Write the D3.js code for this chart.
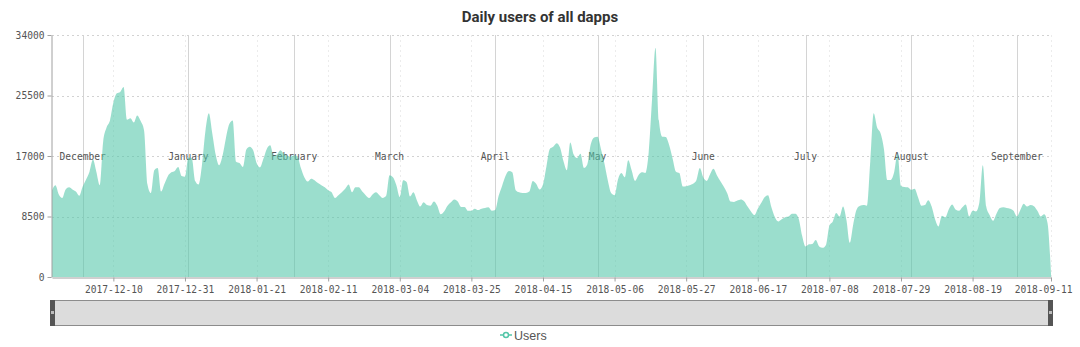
<!DOCTYPE html>
<html>
<head>
<meta charset="utf-8">
<script src="https://cdn.jsdelivr.net/npm/d3@7/dist/d3.min.js"></script>
<style>
	body { margin: 0; background: #fff; }
	.mono { font-family: "DejaVu Sans Mono", "Liberation Mono", monospace; }
</style>
</head>
<body>
<svg id="chart" width="1080" height="347"></svg>
<script>
// first day of the series, one value per day after it
var firstDay = "2017-11-22";

var users = [
	12200, 12900, 11600, 11100, 12300, 12600, 12300, 12000, 11400, 12700,
	13700, 14800, 16500, 14800, 12900, 19000, 21000, 22000, 24500, 25800,
	26000, 26700, 22100, 22300, 21700, 22700, 21900, 20600, 13000, 11800,
	15000, 15300, 12000, 13100, 14200, 14700, 14900, 15450, 14200, 14100,
	16800, 16700, 13500, 13000, 15800, 20500, 23000, 20200, 17200, 15700,
	17000, 19500, 21500, 22000, 16200, 16000, 15450, 17900, 18300, 17800,
	16000, 15400, 16600, 18000, 18500, 17000, 17200, 17800, 17300, 17000,
	16900, 17100, 16900, 15300, 14000, 13400, 13800, 13600, 13200, 12900,
	12600, 12200, 11900, 11100, 11500, 11900, 12400, 13000, 11900, 12600,
	12600, 12000, 11500, 11100, 11600, 11900, 11500, 11100, 11400, 14300,
	14000, 12900, 11240, 13600, 13350, 11300, 11900, 10800, 9900, 10500,
	10100, 10000, 10600, 10000, 8800, 9200, 10000, 10500, 10900, 10600,
	9835, 9835, 9300, 9300, 9600, 9400, 9600, 9700, 9800, 9300,
	9400, 11400, 12800, 14200, 14900, 14700, 12200, 11900, 11800, 11800,
	12000, 13500, 13100, 12300, 13000, 15500, 18000, 18300, 18800, 18200,
	16300, 15000, 18900, 17200, 16700, 17300, 15300, 15800, 18600, 19600,
	19700, 18000, 16000, 13600, 11800, 11500, 13700, 14600, 14000, 16400,
	15000, 13500, 14300, 14700, 14600, 17500, 25000, 32200, 22000, 19700,
	19670, 18550, 16700, 14800, 14600, 12700, 12750, 12900, 13100, 13600,
	15300, 14000, 13500, 14400, 15200, 14300, 13500, 12700, 11800, 10600,
	10550, 10750, 10900, 10650, 9900, 9200, 8700, 9600, 10400, 11200,
	11500, 9800, 8430, 7800, 8100, 8400, 8500, 8900, 8900, 8200,
	5800, 4300, 4600, 4640, 5200, 4300, 4100, 4500, 7200, 7800,
	9000, 8500, 9900, 8000, 4800, 7400, 9500, 10000, 10100, 10000,
	16300, 23000, 21000, 20200, 18000, 13630, 13630, 14700, 17300, 12800,
	12650, 12600, 12250, 12400, 11200, 10000, 10100, 10800, 9900, 8100,
	7100, 8600, 8400, 9500, 10200, 9500, 9300, 9800, 10200, 8500,
	9300, 9200, 10500, 15700, 9900, 8700, 7900, 8900, 9700, 9800,
	9700, 9600, 9300, 8500, 9400, 10300, 9900, 10100, 9950, 9300,
	8500, 8800, 7500, 500
];

var xTicks = ["2017-12-10", "2017-12-31", "2018-01-21", "2018-02-11", "2018-03-04",
	"2018-03-25", "2018-04-15", "2018-05-06", "2018-05-27", "2018-06-17",
	"2018-07-08", "2018-07-29", "2018-08-19", "2018-09-11"];

var yTicks = [0, 8500, 17000, 25500, 34000];

var monthStarts = ["2017-12-01", "2018-01-01", "2018-02-01", "2018-03-01", "2018-04-01",
	"2018-05-01", "2018-06-01", "2018-07-01", "2018-08-01", "2018-09-01"];
var monthNames = ["December", "January", "February", "March", "April",
	"May", "June", "July", "August", "September"];

var title = "Daily users of all dapps",
	seriesName = "Users",
	color = "#53c6a8";

;(function() {
	var parse = d3.utcParse("%Y-%m-%d"),
		start = parse(firstDay);

	var data = users.map(function(v, i) {
		return { date: d3.utcDay.offset(start, i), value: v };
	});

	var svg = d3.select("#chart"),
		x0 = 52, x1 = 1051, y0 = 35, y1 = 277;

	var x = d3.scaleUtc()
		.domain([data[0].date, data[data.length - 1].date])
		.range([x0, x1]);

	var y = d3.scaleLinear()
		.domain([0, 34000])
		.range([y1, y0]);

	// title
	svg.append("text")
		.attr("x", 540)
		.attr("y", 22)
		.attr("text-anchor", "middle")
		.attr("font-family", "Roboto, 'Noto Sans', sans-serif")
		.attr("font-weight", "bold")
		.attr("font-size", "15px")
		.attr("fill", "#333")
		.text(title);

	// grid
	svg.append("g").selectAll("line")
		.data(yTicks.slice(1))
		.enter()
		.append("line")
		.attr("x1", x0).attr("x2", x1)
		.attr("y1", function(d) { return Math.round(y(d)) + 0.5; })
		.attr("y2", function(d) { return Math.round(y(d)) + 0.5; })
		.attr("stroke", "#d2d2d2")
		.attr("stroke-dasharray", "2,3");

	svg.append("g").selectAll("line")
		.data(xTicks.map(parse))
		.enter()
		.append("line")
		.attr("x1", function(d) { return Math.round(x(d)) + 0.5; })
		.attr("x2", function(d) { return Math.round(x(d)) + 0.5; })
		.attr("y1", y0).attr("y2", y1)
		.attr("stroke", "#ececec")
		.attr("stroke-dasharray", "2,3");

	// month markers
	var months = svg.append("g").selectAll("g")
		.data(monthStarts.map(parse))
		.enter()
		.append("g");

	months.append("line")
		.attr("x1", function(d) { return Math.round(x(d)) + 0.5; })
		.attr("x2", function(d) { return Math.round(x(d)) + 0.5; })
		.attr("y1", y0).attr("y2", y1)
		.attr("stroke", "#d4d4d4");

	months.append("text")
		.attr("class", "mono")
		.attr("x", function(d) { return x(d); })
		.attr("y", y(17000) + 3.5)
		.attr("text-anchor", "middle")
		.attr("font-size", "9.6px")
		.attr("fill", "#555")
		.text(function(d, i) { return monthNames[i]; });

	// area
	var area = d3.area()
		.x(function(d) { return x(d.date); })
		.y0(y(0))
		.y1(function(d) { return y(d.value); })
		.curve(d3.curveMonotoneX);

	svg.append("path")
		.datum(data)
		.attr("d", area)
		.attr("fill", color)
		.attr("fill-opacity", 0.58);

	// axes
	svg.append("g")
		.attr("class", "mono")
		.attr("transform", "translate(" + (x0 - 0.5) + ",0)")
		.call(d3.axisLeft(y).tickValues(yTicks).tickSize(4).tickSizeOuter(0).tickFormat(d3.format("d")));

	var xAxis = svg.append("g")
		.attr("class", "mono")
		.attr("transform", "translate(0," + (y1 + 0.5) + ")")
		.call(d3.axisBottom(x).tickValues(xTicks.map(parse)).tickSize(4).tickSizeOuter(0)
			.tickFormat(d3.utcFormat("%Y-%m-%d")));

	svg.selectAll(".domain, .tick line").attr("stroke", "#a0a0a0");
	svg.selectAll(".tick text")
		.attr("fill", "#555")
		.attr("font-size", "9.6px")
		.attr("font-family", "'DejaVu Sans Mono', 'Liberation Mono', monospace");
	xAxis.selectAll(".tick text").attr("dy", "0.9em");

	// last label is pulled back inside the frame
	xAxis.selectAll(".tick text")
		.filter(function(d, i, nodes) { return i === nodes.length - 1; })
		.attr("text-anchor", "end")
		.attr("x", 21);

	// zoom slider
	var slider = svg.append("g");
	slider.append("rect")
		.attr("x", x0 - 1.5).attr("y", 300.5)
		.attr("width", x1 - x0 + 2).attr("height", 25)
		.attr("fill", "#dcdcdc")
		.attr("stroke", "#8c8c8c");

	slider.selectAll(".handle")
		.data([x0 - 2, x1 - 3])
		.enter()
		.append("rect")
		.attr("class", "handle")
		.attr("x", function(d) { return d; })
		.attr("y", 300)
		.attr("width", 5)
		.attr("height", 26)
		.attr("fill", "#555");

	slider.selectAll(".grip")
		.data([x0 - 1, x1 - 2])
		.enter()
		.append("rect")
		.attr("class", "grip")
		.attr("x", function(d) { return d; })
		.attr("y", 311)
		.attr("width", 3)
		.attr("height", 3)
		.attr("fill", "#bbb");

	// legend
	var legend = svg.append("g").attr("transform", "translate(500,335)");
	legend.append("line")
		.attr("x1", 0).attr("x2", 12)
		.attr("stroke", color)
		.attr("stroke-width", 1.5);
	legend.append("circle")
		.attr("cx", 6).attr("r", 2.5)
		.attr("fill", "#fff")
		.attr("stroke", color)
		.attr("stroke-width", 1.5);
	legend.append("text")
		.attr("x", 14)
		.attr("y", 4.5)
		.attr("font-family", "'Liberation Sans', Arial, sans-serif")
		.attr("font-size", "12.5px")
		.attr("fill", "#555")
		.text(seriesName);
})();
</script>
</body>
</html>
